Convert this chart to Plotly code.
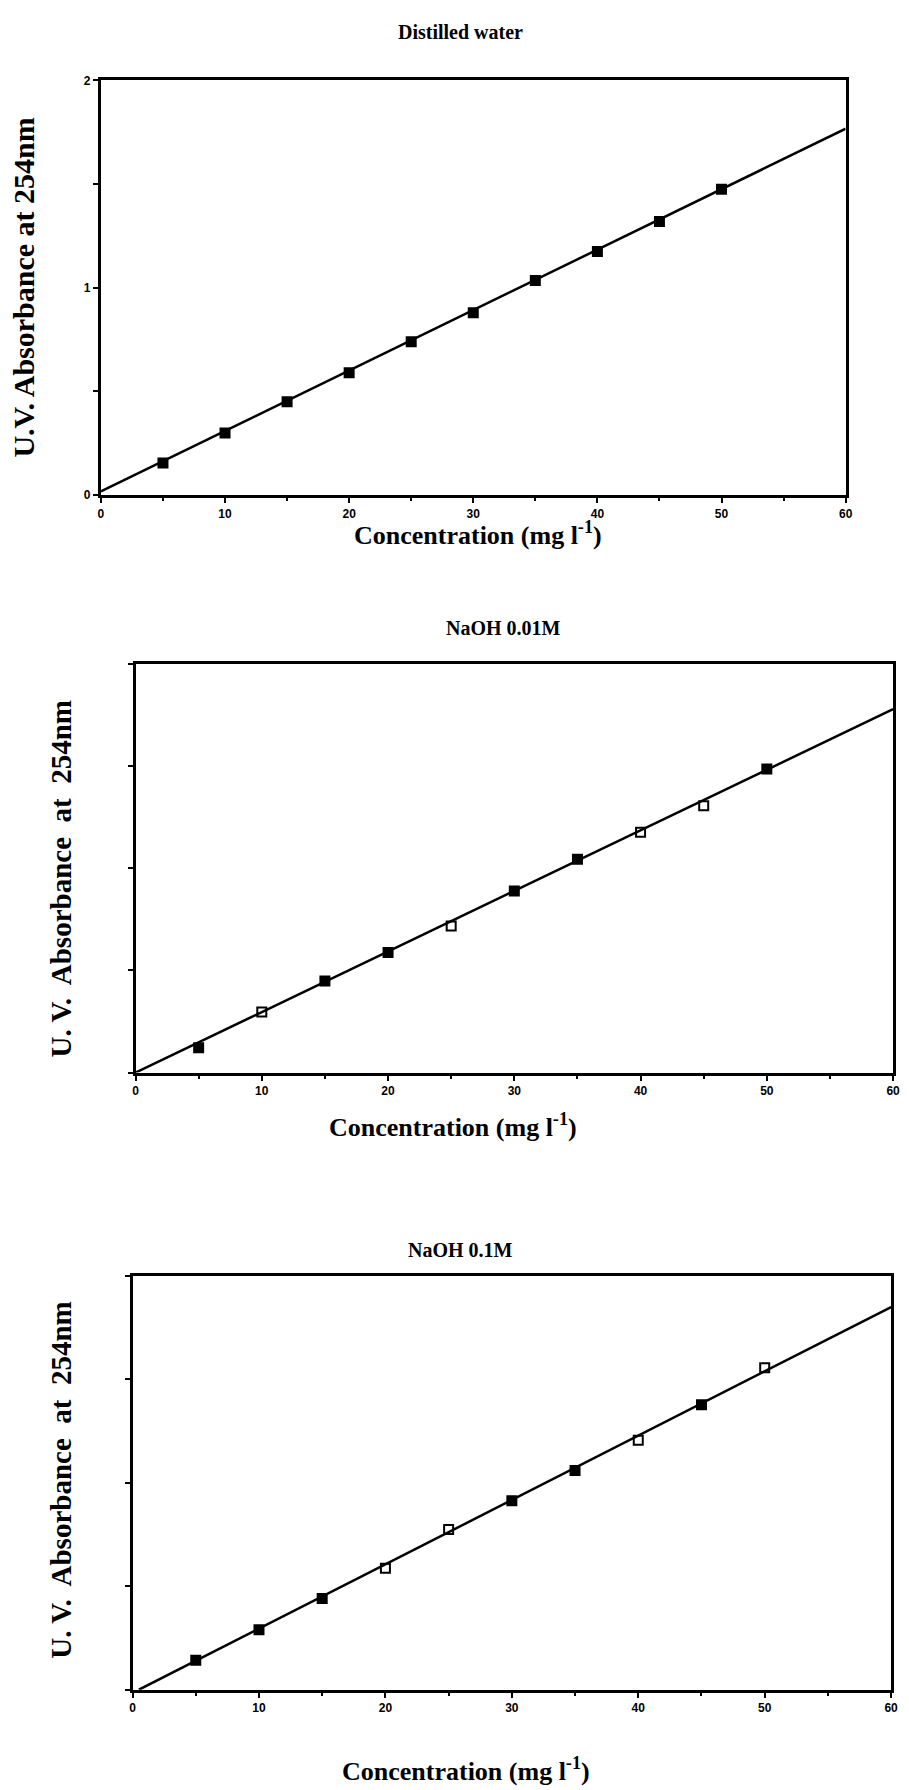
import plotly.graph_objects as go

# ---------------- data ----------------
conc = [5, 10, 15, 20, 25, 30, 35, 40, 45, 50]

water_abs = [0.155, 0.30, 0.45, 0.59, 0.74, 0.88, 1.035, 1.175, 1.32, 1.475]
water_open = [False] * 10
water_fit_x = [0, 60]
water_fit_y = [0.018, 1.767]

naoh001_abs = [0.122, 0.296, 0.448, 0.587, 0.717, 0.889, 1.044, 1.176, 1.306, 1.485]
naoh001_open = [False, True, False, False, True, False, False, True, True, False]
naoh001_fit_x = [0, 60]
naoh001_fit_y = [0.0, 1.778]

naoh01_abs = [0.142, 0.290, 0.441, 0.587, 0.774, 0.914, 1.060, 1.206, 1.378, 1.557]
naoh01_open = [False, False, False, True, True, False, False, True, False, True]
naoh01_fit_x = [0.5, 60]
naoh01_fit_y = [0.0, 1.85]

x_ticks = [0, 10, 20, 30, 40, 50, 60]
y_major_1 = [0, 1, 2]
y_ticks_23 = [0, 0.5, 1, 1.5, 2]

titles = ["Distilled water", "NaOH 0.01M", "NaOH 0.1M"]
x_title = "Concentration (mg l<sup>-1</sup>)"
y_title_1 = "U.V. Absorbance at 254nm"
y_title_23 = "U. V.  Absorbance  at  254nm"

W, H = 909, 1790

def px(x):
    return x / W

def py(y):
    return 1 - y / H

panels = [
    # left, right, top, bottom (pixels)
    dict(l=99, r=852, t=74, b=492, y=water_abs, op=water_open, fx=water_fit_x, fy=water_fit_y),
    dict(l=134, r=900, t=662, b=1074, y=naoh001_abs, op=naoh001_open, fx=naoh001_fit_x, fy=naoh001_fit_y),
    dict(l=131, r=898, t=1279, b=1696, y=naoh01_abs, op=naoh01_open, fx=naoh01_fit_x, fy=naoh01_fit_y),
]

fig = go.Figure()
layout = dict(
    width=W, height=H,
    margin=dict(l=0, r=0, t=0, b=0),
    paper_bgcolor="white", plot_bgcolor="white",
    showlegend=False,
)

tickfont = dict(family="Arial, Liberation Sans", size=12, color="black", weight="bold")

for i, p in enumerate(panels):
    n = "" if i == 0 else str(i + 1)
    xa, ya = "x" + n, "y" + n
    fig.add_trace(go.Scatter(
        x=p["fx"], y=p["fy"], mode="lines",
        line=dict(color="black", width=2.5),
        xaxis=xa, yaxis=ya, hoverinfo="skip"))
    fig.add_trace(go.Scatter(
        x=conc, y=p["y"], mode="markers",
        marker=dict(symbol=["square-open" if o else "square" for o in p["op"]],
                    size=9, color="black", line=dict(color="black", width=2)),
        xaxis=xa, yaxis=ya))
    layout["xaxis" + n] = dict(
        domain=[px(p["l"]), px(p["r"])], anchor=ya, range=[0, 60],
        tickvals=x_ticks, ticks="outside", ticklen=5, tickwidth=2, tickcolor="black",
        minor=dict(dtick=5, tick0=0, ticks="outside", ticklen=3, tickwidth=2, tickcolor="black"),
        showline=True, linecolor="black", linewidth=3, mirror=True,
        showgrid=False, zeroline=False, tickfont=tickfont,
    )
    ydict = dict(
        domain=[py(p["b"]), py(p["t"])], anchor=xa, range=[0, 2],
        ticks="outside", ticklen=5, tickwidth=2, tickcolor="black",
        showline=True, linecolor="black", linewidth=3, mirror=True,
        showgrid=False, zeroline=False, tickfont=tickfont,
    )
    if i == 0:
        ydict.update(tickvals=y_major_1,
                     minor=dict(dtick=0.5, tick0=0, ticks="outside", ticklen=5,
                                tickwidth=2, tickcolor="black"))
    else:
        ydict.update(tickvals=y_ticks_23, showticklabels=False)
    layout["yaxis" + n] = ydict

serif = "Liberation Serif, Times New Roman, serif"
ann = []
# titles
for (txt, x, y) in [(titles[0], 463, 25), (titles[1], 506, 626), (titles[2], 463, 1253)]:
    ann.append(dict(text=txt, x=px(x), y=py(y), xref="paper", yref="paper",
                    showarrow=False, xanchor="center", yanchor="middle",
                    font=dict(family=serif, size=20, color="black", weight="bold")))
# x titles
for (x, y) in [(480, 531), (455, 1127), (468, 1776)]:
    ann.append(dict(text=x_title, x=px(x), y=py(y), xref="paper", yref="paper",
                    showarrow=False, xanchor="center", yanchor="middle",
                    font=dict(family=serif, size=26, color="black", weight="bold")))
# y titles
for (txt, x, y, s) in [(y_title_1, 21, 283, 30), (y_title_23, 59, 879, 29), (y_title_23, 59, 1485, 29)]:
    ann.append(dict(text=txt, x=px(x), y=py(y), xref="paper", yref="paper",
                    showarrow=False, xanchor="center", yanchor="middle", textangle=-90,
                    font=dict(family=serif, size=s, color="black", weight="bold")))
layout["annotations"] = ann

fig.update_layout(**layout)
fig.write_html("out.html")
